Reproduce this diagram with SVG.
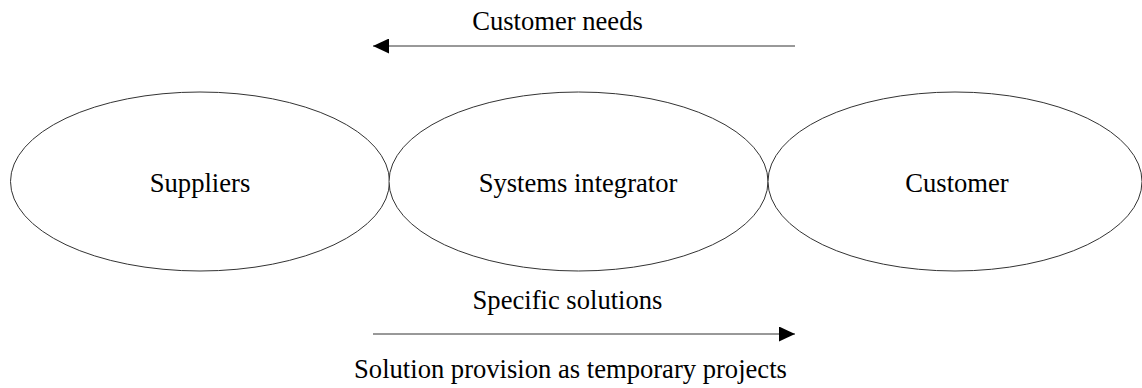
<svg xmlns="http://www.w3.org/2000/svg" width="1142" height="388" viewBox="0 0 1142 388">
<style>
.node{fill:#fff;stroke:#333;stroke-width:1}
.t{font-family:"Liberation Serif","Times New Roman",serif;font-size:26.6px;fill:#000;text-anchor:middle}
.c{stroke:#333;stroke-width:1;fill:none}
</style>
<defs>
<marker id="ah" markerWidth="16" markerHeight="15" refX="16" refY="7.5" orient="auto" markerUnits="userSpaceOnUse">
<path d="M0,0 L16,7.5 L0,15 Z" fill="#000"/>
</marker>
</defs>
<rect width="1142" height="388" fill="#fff"/>
<g id="suppliers">
<ellipse class="node" cx="200" cy="181.5" rx="189.5" ry="89.5"/>
<text class="t" x="200" y="192">Suppliers</text>
</g>
<g id="integrator">
<ellipse class="node" cx="578.5" cy="181.5" rx="189.5" ry="89.5"/>
<text class="t" x="578" y="192">Systems integrator</text>
</g>
<g id="customer">
<ellipse class="node" cx="955" cy="181.5" rx="187" ry="89.5"/>
<text class="t" x="957" y="192">Customer</text>
</g>
<g id="connectors">
<line class="c" x1="795" y1="46" x2="373" y2="46" marker-end="url(#ah)"/>
<line class="c" x1="373" y1="334" x2="795" y2="334" marker-end="url(#ah)"/>
</g>
<g id="labels">
<text class="t" x="557.5" y="30">Customer needs</text>
<text class="t" x="567.5" y="309">Specific solutions</text>
<text class="t" x="570.5" y="378">Solution provision as temporary projects</text>
</g>
</svg>
